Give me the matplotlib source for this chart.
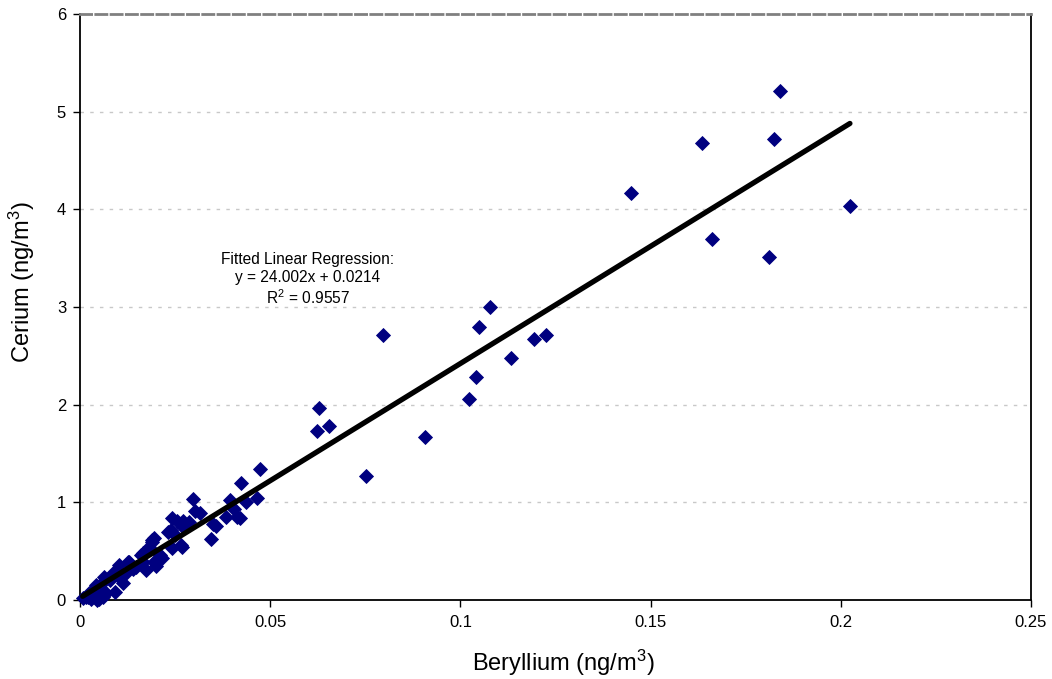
import matplotlib
matplotlib.use("Agg")
import matplotlib.pyplot as plt
import numpy as np

plt.rcParams['font.family'] = ['Liberation Sans', 'DejaVu Sans']
plt.rcParams['mathtext.default'] = 'regular'

# Beryllium (x) and Cerium (y), ng/m3
beryllium = [
    0.1840, 0.1636, 0.1824, 0.1448, 0.2024, 0.1661, 0.1811, 0.1078, 0.1050, 0.0797,
    0.1193, 0.1226, 0.1132, 0.1042, 0.1022, 0.0628, 0.0624, 0.0654, 0.0906, 0.0752,
    0.0473, 0.0424, 0.0298, 0.0394, 0.0436, 0.0464, 0.0301, 0.0315, 0.0406, 0.0384,
    0.0412, 0.0421, 0.0241, 0.0254, 0.0272, 0.0287, 0.0350, 0.0358, 0.0238, 0.0231,
    0.0249, 0.0272, 0.0344, 0.0195, 0.0188, 0.0241, 0.0266, 0.0210, 0.0181, 0.0166,
    0.0201, 0.0216, 0.0160, 0.0194, 0.0174, 0.0130, 0.0103, 0.0093, 0.0077, 0.0060,
    0.0042, 0.0051, 0.0033, 0.0024, 0.0016, 0.0007, 0.0042, 0.0055, 0.0068, 0.0112,
    0.0121, 0.0147, 0.0165, 0.0086, 0.0064, 0.0127, 0.0030, 0.0050, 0.0020, 0.0060,
    0.0045, 0.0100, 0.0140, 0.0080, 0.0189, 0.0267,
]
cerium = [
    5.21, 4.676, 4.72, 4.164, 4.037, 3.70, 3.51, 3.003, 2.792, 2.717,
    2.669, 2.717, 2.474, 2.283, 2.061, 1.969, 1.730, 1.778, 1.669, 1.266,
    1.344, 1.201, 1.031, 1.024, 1.003, 1.041, 0.911, 0.894, 0.928, 0.853,
    0.853, 0.836, 0.836, 0.812, 0.809, 0.795, 0.778, 0.755, 0.717, 0.699,
    0.669, 0.744, 0.628, 0.631, 0.597, 0.532, 0.563, 0.461, 0.546, 0.485,
    0.348, 0.427, 0.461, 0.392, 0.307, 0.392, 0.358, 0.085, 0.222, 0.188,
    0.154, 0.120, 0.102, 0.068, 0.034, 0.017, 0.034, 0.051, 0.068, 0.171,
    0.273, 0.341, 0.392, 0.273, 0.239, 0.392, 0.010, 0.010, 0.030, 0.030,
    0.000, 0.250, 0.320, 0.200, 0.614, 0.546,
]

slope = 24.002
intercept = 0.0214
r_squared = 0.9557

x_ticks = [0, 0.05, 0.1, 0.15, 0.2, 0.25]
x_tick_labels = ["0", "0.05", "0.1", "0.15", "0.2", "0.25"]
y_ticks = [0, 1, 2, 3, 4, 5, 6]
y_tick_labels = ["0", "1", "2", "3", "4", "5", "6"]

fig = plt.figure(figsize=(10.52, 6.79), dpi=100)
ax = fig.add_axes([80/1052, 79/679, 951/1052, 586/679])

ax.set_xlim(0, 0.25)
ax.set_ylim(0, 6)

for yv in [1, 2, 3, 4, 5]:
    ax.axhline(yv, color='#c8c8c8', lw=1.0, dashes=(2.5, 4.5), zorder=0)

ax.plot(beryllium, cerium, linestyle='none', marker='D', markersize=6.8,
        markerfacecolor='#000080', markeredgecolor='#000080', markeredgewidth=0.6,
        zorder=3, clip_on=False)

xs = np.array([min(beryllium), max(beryllium)])
ax.plot(xs, slope * xs + intercept, color='black', lw=3.8, zorder=4,
        solid_capstyle='round')

ax.text(0.0599, 3.28, "Fitted Linear Regression:\ny = %.3fx + %.4f\nR$^{2}$ = %.4f" % (slope, intercept, r_squared),
        ha='center', va='center', fontsize=11.2, linespacing=1.22, color='black')

ax.set_xticks(x_ticks)
ax.set_xticklabels(x_tick_labels)
ax.set_yticks(y_ticks)
ax.set_yticklabels(y_tick_labels)
ax.tick_params(axis='both', direction='out', length=5, width=1, labelsize=12, color='black')
ax.tick_params(axis='x', pad=6)
ax.tick_params(axis='y', pad=5)

for s in ['left', 'bottom', 'right']:
    ax.spines[s].set_color('black')
    ax.spines[s].set_linewidth(1.3)
ax.spines['top'].set_color('#808080')
ax.spines['top'].set_linewidth(2)
ax.spines['top'].set_linestyle((0, (4, 1.5)))

fig.text(563/1052, 1 - 663/679, "Beryllium (ng/m$^{3}$)", ha='center', va='center', fontsize=17)
fig.text(22/1052, 1 - 282/679, "Cerium (ng/m$^{3}$)", ha='center', va='center', rotation=90, fontsize=17)

fig.savefig("out.png", dpi=100)
